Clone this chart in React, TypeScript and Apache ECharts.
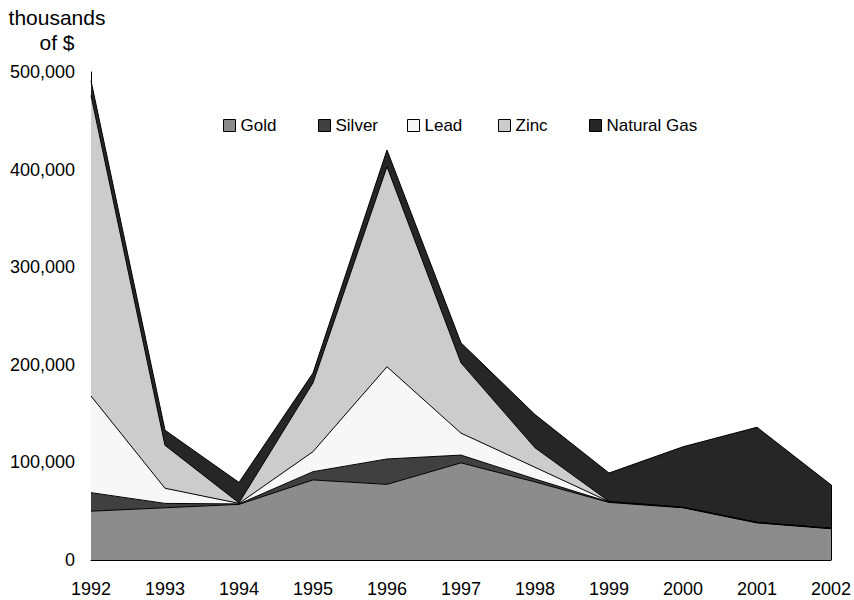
import React, { useEffect, useRef } from "react";
import * as echarts from "echarts";

const years = ["1992", "1993", "1994", "1995", "1996", "1997", "1998", "1999", "2000", "2001", "2002"];
const gold = [50000, 53500, 57000, 82000, 77500, 99500, 80000, 59000, 53500, 38000, 32000];
const silver = [19000, 4500, 500, 8500, 26000, 8000, 3000, 500, 500, 500, 500];
const lead = [99000, 15500, 500, 20500, 94500, 22500, 12000, 300, 0, 0, 0];
const zinc = [308000, 44000, 500, 70500, 205000, 72000, 20000, 300, 0, 0, 0];
const naturalGas = [15000, 15500, 21000, 10000, 17000, 20500, 34000, 29000, 62000, 97500, 44500];

const seriesNames = ["Gold", "Silver", "Lead", "Zinc", "Natural Gas"];
const seriesColors = ["#8c8c8c", "#404040", "#f7f7f7", "#cccccc", "#262626"];
const legendLefts = [223, 318, 407, 498, 589];
const yTicks = [0, 100000, 200000, 300000, 400000, 500000];

const FONT = "'Liberation Sans', Arial, sans-serif";

export default function App() {
  const ref = useRef<HTMLDivElement>(null);
  useEffect(() => {
    if (!ref.current) return;
    const chart = echarts.init(ref.current, null, { renderer: "svg" });
    const values = [gold, silver, lead, zinc, naturalGas];
    const lastIdx = years.length - 1;
    const lastTotal = values.reduce((s, arr) => s + arr[lastIdx], 0);
    const series = seriesNames.map((name, i) => ({
      name,
      type: "line",
      stack: "total",
      data: values[i],
      symbol: "none",
      showSymbol: false,
      lineStyle: { color: "#000", width: 1 },
      itemStyle: { color: seriesColors[i] },
      areaStyle: { color: seriesColors[i], opacity: 1 },
      emphasis: { disabled: true },
      z: 2,
      ...(i === seriesNames.length - 1
        ? {
            markLine: {
              silent: true,
              symbol: "none",
              label: { show: false },
              lineStyle: { color: "#000", width: 1, type: "solid" },
              data: [[{ coord: [years[lastIdx], 0] }, { coord: [years[lastIdx], lastTotal] }]],
            },
          }
        : {}),
    }));
    chart.setOption({
      animation: false,
      textStyle: { fontFamily: FONT },
      grid: { left: 91, right: 21, top: 72, bottom: 40, containLabel: false },
      legend: seriesNames.map((name, i) => ({
        left: legendLefts[i],
        top: 117,
        padding: 0,
        icon: "rect",
        itemWidth: 12,
        itemHeight: 12,
        selectedMode: false,
        textStyle: { color: "#000", fontSize: 17, fontFamily: FONT },
        data: [
          {
            name,
            icon: "rect",
            itemStyle: { color: seriesColors[i], borderColor: "#000", borderWidth: 1 },
          },
        ],
      })),
      graphic: [
        {
          type: "text",
          x: 57,
          y: 5,
          style: {
            text: "thousands\nof $",
            font: `21px ${FONT}`,
            fill: "#000",
            textAlign: "center",
            textVerticalAlign: "top",
            lineHeight: 25,
          },
        },
      ],
      xAxis: {
        type: "category",
        data: years,
        boundaryGap: false,
        axisLine: { show: true, lineStyle: { color: "#000", width: 1 } },
        axisTick: { show: false },
        axisLabel: { color: "#000", fontSize: 18, fontFamily: FONT, margin: 20 },
        splitLine: { show: false },
      },
      yAxis: {
        type: "value",
        min: yTicks[0],
        max: yTicks[yTicks.length - 1],
        interval: 100000,
        axisLine: { show: true, lineStyle: { color: "#000", width: 1 } },
        axisTick: { show: false },
        splitLine: { show: false },
        axisLabel: {
          color: "#000",
          fontSize: 18,
          fontFamily: FONT,
          margin: 16,
          formatter: (v: number) => v.toLocaleString("en-US"),
        },
      },
      series,
    });
    return () => chart.dispose();
  }, []);
  return (
    <div
      ref={ref}
      style={{ position: "absolute", left: 0, top: 0, width: 854, height: 600, overflow: "visible" }}
    />
  );
}
